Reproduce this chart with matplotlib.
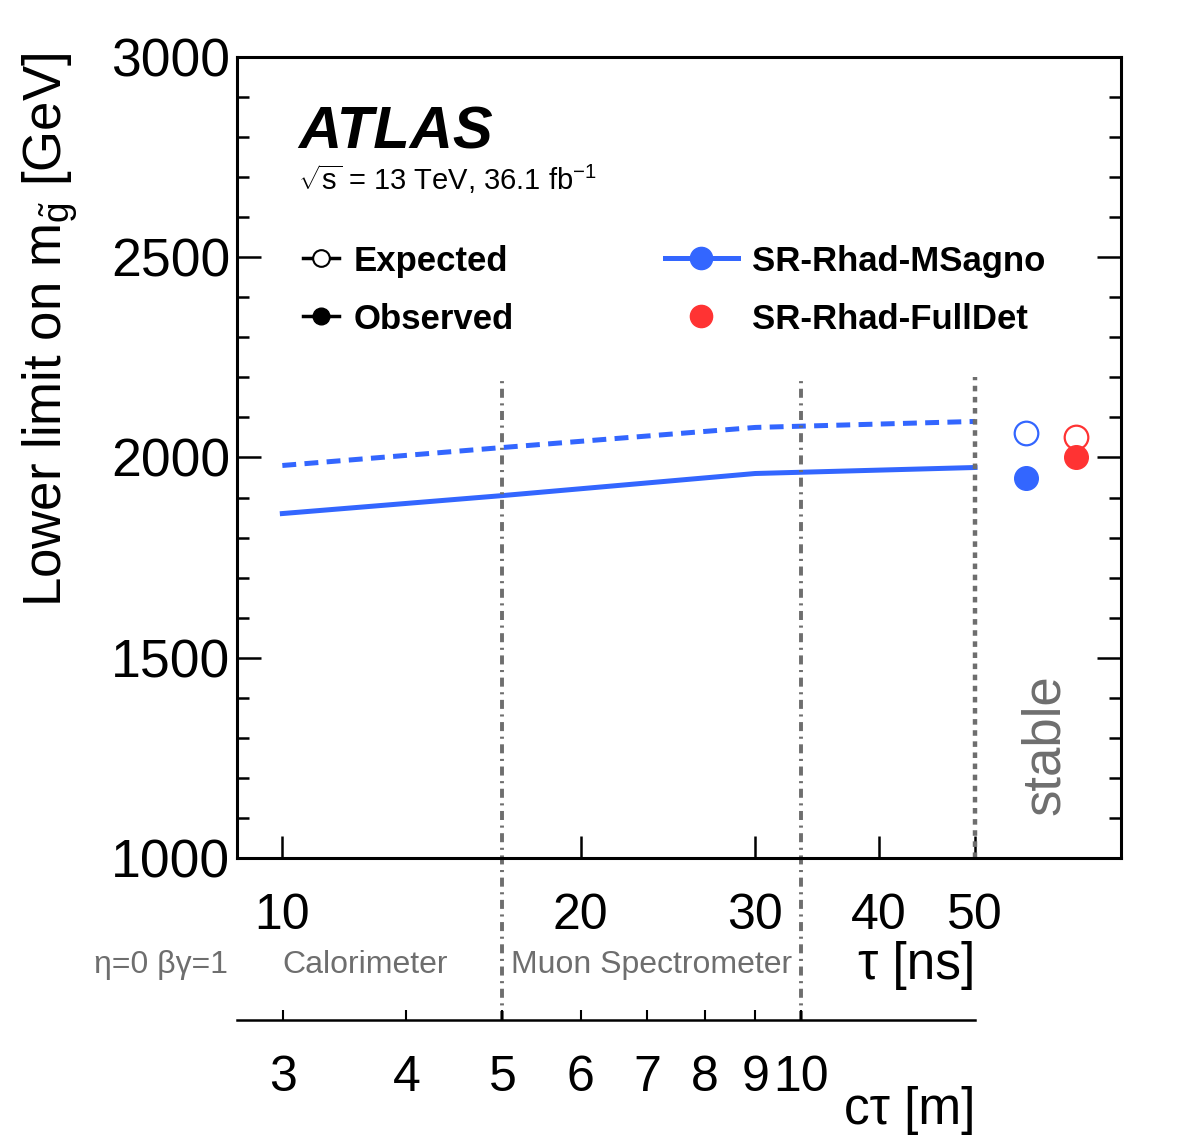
import numpy as np
import matplotlib
matplotlib.use('Agg')
import matplotlib.pyplot as plt
from matplotlib.lines import Line2D
from matplotlib.ticker import MultipleLocator, FixedLocator, NullLocator
import matplotlib.transforms as mtransforms

plt.rcParams['font.family'] = ['Liberation Sans', 'DejaVu Sans']
plt.rcParams['mathtext.fontset'] = 'custom'
plt.rcParams['mathtext.rm'] = 'Liberation Sans'
plt.rcParams['mathtext.it'] = 'Liberation Sans:italic'
plt.rcParams['mathtext.bf'] = 'Liberation Sans:bold'
plt.rcParams['lines.scale_dashes'] = False

# lifetime points [ns] and mass limits [GeV] for SR-Rhad-MSagno
tau_ns = [10, 16.7, 30, 50]
msagno_expected = [1980, 2025, 2075, 2090]
msagno_observed = [1860, 1905, 1960, 1975]

# stable R-hadron limits [GeV]
stable_labels = ['SR-Rhad-MSagno', 'SR-Rhad-FullDet']
stable_expected = [2060, 2050]
stable_observed = [1950, 2000]

# detector boundaries (c*tau in m) and lower axis ticks
boundaries_m = [5, 10]
tau_ticks = [10, 20, 30, 40, 50]
ctau_ticks = [3, 4, 5, 6, 7, 8, 9, 10]

C_M_PER_NS = 0.2998
BLUE = '#3366ff'
RED = '#ff3333'
GREY = '#6e6e6e'

fig = plt.figure(figsize=(11.82, 11.46), dpi=100)
ax = fig.add_axes([0.2005, 0.2513, 0.7479, 0.6990])
ax.set_xscale('log')
ax.set_xlim(9.0, 70.2)
ax.set_ylim(1000, 3000)

# limit curves
ax.plot(tau_ns, msagno_expected, color=BLUE, lw=3.6, dashes=(10, 6))
ax.plot(tau_ns, msagno_observed, color=BLUE, lw=3.6)

# stable points (placed right of the 50 ns line)
stable_x = [56.3, 63.2]
stable_colors = [BLUE, RED]
for x, e, o, c in zip(stable_x, stable_expected, stable_observed, stable_colors):
    ax.plot([x], [e], marker='o', ms=17, mfc='white', mec=c, mew=1.6, ls='none')
    ax.plot([x], [o], marker='o', ms=17, color=c, ls='none')

# detector boundary lines, extended down to the c*tau axis
for b in boundaries_m:
    ax.axvline(b / C_M_PER_NS, ymin=-0.202, ymax=0.6, color=GREY, lw=2.8,
               dashes=(6.5, 4, 1.5, 4), clip_on=False)
ax.axvline(50, ymin=0, ymax=0.6, color=GREY, lw=3.2, dashes=(4, 4))

# axes styling
for s in ax.spines.values():
    s.set_linewidth(2.2)
ax.yaxis.set_major_locator(MultipleLocator(500))
ax.yaxis.set_minor_locator(MultipleLocator(100))
ax.xaxis.set_major_locator(FixedLocator(tau_ticks))
ax.xaxis.set_minor_locator(NullLocator())
ax.set_xticklabels([str(t) for t in tau_ticks])
ax.tick_params(axis='both', which='both', direction='in', right=True, top=False,
               width=1.8)
ax.tick_params(axis='y', which='major', length=17, labelsize=38.5, pad=5)
ax.tick_params(axis='y', which='minor', length=8.5)
ax.tick_params(axis='x', which='major', length=16, labelsize=36, pad=25)

ax.set_ylabel(r'Lower limit on m$_{\tilde{\mathrm{g}}}$ [GeV]', fontsize=38)
ax.yaxis.set_label_coords(-0.178, 0.659)

# ATLAS label
ax.text(0.069, 0.886, 'ATLAS', transform=ax.transAxes, fontsize=43,
        fontweight='bold', fontstyle='italic', va='baseline')
ax.text(0.069, 0.834, r'$\sqrt{\mathrm{s}}$ = 13 TeV, 36.1 fb$^{\mathrm{-1}}$',
        transform=ax.transAxes, fontsize=21, va='baseline')

# legends
h_exp = Line2D([], [], color='k', lw=2.5, marker='o', ms=12, mfc='white', mec='k', mew=1.5)
h_obs = Line2D([], [], color='k', lw=2.5, marker='o', ms=12)
leg1 = ax.legend([h_exp, h_obs], ['Expected', 'Observed'], loc='center left',
                 bbox_to_anchor=(0.0747, 0.709), frameon=False, borderpad=0,
                 borderaxespad=0, handlelength=1.05, handletextpad=0.42,
                 labelspacing=0.72, prop={'weight': 'bold', 'size': 25})
h_ms = Line2D([], [], color=BLUE, lw=3.6, marker='o', ms=16)
h_fd = Line2D([], [], color=RED, ls='none', marker='o', ms=16)
ax.legend([h_ms, h_fd], stable_labels, loc='center left',
          bbox_to_anchor=(0.484, 0.709), frameon=False, borderpad=0,
          borderaxespad=0, handlelength=2.1, handletextpad=0.40,
          labelspacing=0.72, prop={'weight': 'bold', 'size': 25})
ax.add_artist(leg1)

# annotations below the axis
trans = mtransforms.blended_transform_factory(ax.transData, ax.transAxes)
ax.text(-0.010, -0.1336, 'η=0 βγ=1', transform=ax.transAxes, ha='right',
        va='center', fontsize=23, color=GREY)
ax.text(10, -0.1336, 'Calorimeter', transform=trans, ha='left', va='center',
        fontsize=23, color=GREY)
ax.text(17.0, -0.1336, 'Muon Spectrometer', transform=trans, ha='left',
        va='center', fontsize=23, color=GREY)
ax.text(50, -0.1336, 'τ [ns]', transform=trans, ha='right', va='center',
        fontsize=37)
ax.text(50, -0.315, 'cτ [m]', transform=trans, ha='right', va='center',
        fontsize=37)
ax.text(0.914, 0.141, 'stable', transform=ax.transAxes, rotation=90,
        ha='center', va='center', fontsize=38, color=GREY)

# secondary c*tau axis
ax2 = fig.add_axes([0.2005, 0.1100, 0.7479, 0.0])
ax2.set_xscale('log')
lo, hi = ax.get_xlim()
ax2.set_xlim(lo * C_M_PER_NS, hi * C_M_PER_NS)
for side in ['top', 'left', 'right']:
    ax2.spines[side].set_visible(False)
ax2.spines['bottom'].set_linewidth(1.8)
ax2.spines['bottom'].set_bounds(lo * C_M_PER_NS, 50 * C_M_PER_NS)
ax2.patch.set_visible(False)
ax2.set_yticks([])
ax2.xaxis.set_major_locator(FixedLocator(ctau_ticks))
ax2.xaxis.set_minor_locator(NullLocator())
ax2.set_xticklabels([str(t) for t in ctau_ticks])
ax2.tick_params(axis='x', which='major', direction='in', length=7.5, width=1.5,
                labelsize=36, pad=25)

fig.savefig('out.png', dpi=100)
